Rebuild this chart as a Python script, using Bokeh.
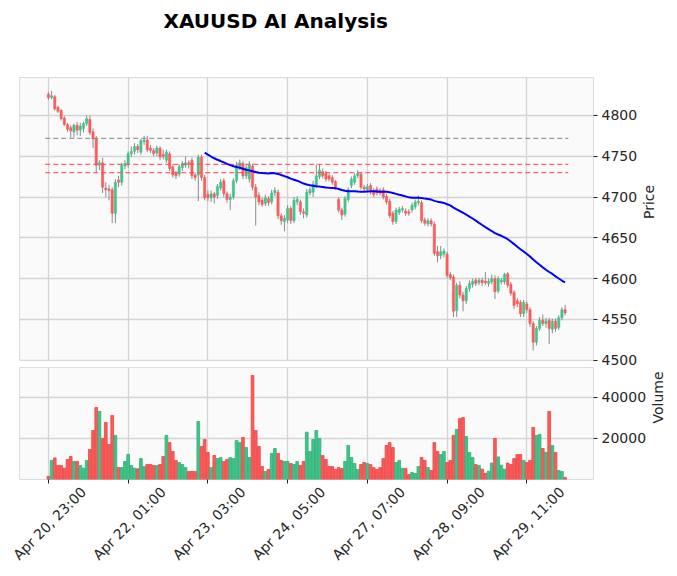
import numpy as np
import pandas as pd
from bokeh.plotting import figure
from bokeh.models import ColumnDataSource, FixedTicker, Range1d, LinearAxis
from bokeh.layouts import column
from bokeh.embed import file_html
from bokeh.resources import INLINE

# ---------------- data ----------------
opens = [4826,4822,4823,4810,4806,4797,4789,4785,4780,4788,4782,4784,4790,4795,4780,4772,4739,4742,4711,4710,
         4709,4680,4721,4718,4738,4740,4753,4756,4762,4755,4768,4770,4760,4757,4754,4760,4752,4745,4753,4737,
         4729,4728,4736,4739,4742,4745,4727,4727,4749,4724,4703,4699,4704,4702,4711,4720,4704,4697,4700,4720,
         4737,4741,4726,4722,4738,4712,4702,4696,4692,4698,4694,4705,4706,4677,4670,4672,4686,4671,4694,4694,
         4682,4678,4705,4706,4714,4725,4731,4729,4726,4724,4719,4697,4684,4679,4697,4714,4718,4726,4728,4712,
         4709,4714,4708,4710,4708,4709,4701,4695,4680,4670,4681,4684,4683,4682,4684,4688,4693,4693,4672,4667,
         4671,4667,4633,4628,4630,4630,4605,4602,4561,4592,4580,4573,4588,4593,4598,4595,4598,4597,4594,4596,
         4600,4585,4596,4596,4606,4593,4583,4573,4571,4557,4569,4562,4545,4522,4539,4549,4545,4549,4538,4548,
         4540,4552,4562]
highs = [4829,4830,4825,4812,4808,4799,4791,4788,4790,4792,4791,4792,4800,4800,4784,4775,4745,4748,4718,4715,
         4712,4722,4726,4742,4745,4756,4762,4766,4765,4771,4775,4775,4764,4760,4763,4762,4758,4758,4756,4740,
         4732,4740,4744,4750,4745,4748,4730,4752,4752,4727,4708,4708,4706,4716,4722,4723,4707,4704,4723,4743,
         4746,4744,4740,4744,4741,4716,4706,4699,4703,4701,4709,4712,4709,4680,4678,4690,4689,4700,4701,4697,
         4686,4710,4712,4720,4740,4740,4735,4732,4729,4727,4721,4700,4687,4701,4712,4725,4729,4733,4731,4715,
         4716,4717,4711,4713,4711,4712,4704,4698,4683,4687,4688,4689,4686,4685,4693,4697,4702,4696,4675,4674,
         4674,4670,4640,4640,4637,4633,4608,4605,4595,4597,4584,4591,4598,4600,4601,4601,4601,4608,4600,4605,
         4604,4603,4601,4607,4608,4596,4586,4576,4574,4574,4572,4565,4548,4542,4553,4556,4552,4552,4551,4551,
         4555,4565,4568]
lows = [4819,4820,4806,4803,4794,4787,4780,4773,4773,4776,4775,4779,4787,4776,4760,4730,4733,4705,4700,4696,
        4668,4668,4712,4714,4734,4736,4749,4752,4754,4752,4764,4755,4754,4750,4750,4745,4746,4742,4732,4724,
        4722,4725,4732,4736,4735,4722,4720,4695,4720,4696,4695,4694,4692,4698,4708,4700,4693,4684,4697,4717,
        4733,4722,4722,4718,4708,4665,4690,4688,4689,4689,4691,4701,4673,4666,4658,4668,4667,4668,4690,4678,
        4674,4675,4702,4700,4711,4722,4723,4719,4719,4715,4709,4681,4672,4676,4694,4711,4715,4723,4709,4707,
        4706,4703,4700,4702,4702,4697,4691,4674,4666,4667,4678,4681,4677,4677,4681,4685,4690,4668,4665,4664,
        4664,4628,4620,4624,4626,4601,4598,4553,4553,4576,4560,4569,4584,4589,4591,4592,4591,4592,4590,4593,
        4575,4582,4593,4593,4589,4579,4563,4565,4553,4553,4558,4541,4512,4518,4536,4542,4540,4520,4533,4535,
        4537,4549,4555]
closes = [4822,4824,4808,4805,4796,4789,4783,4781,4788,4782,4787,4790,4796,4779,4771,4739,4742,4712,4709,4708,
          4680,4718,4718,4739,4741,4753,4756,4762,4758,4769,4770,4758,4757,4753,4760,4749,4750,4755,4735,4727,
          4726,4737,4741,4742,4740,4726,4724,4749,4724,4699,4699,4704,4700,4713,4718,4704,4697,4700,4720,4739,
          4742,4726,4736,4740,4712,4700,4694,4691,4699,4693,4705,4708,4677,4671,4674,4686,4671,4696,4697,4682,
          4680,4706,4709,4716,4726,4733,4726,4722,4722,4718,4712,4684,4678,4698,4709,4722,4726,4729,4712,4710,
          4713,4706,4703,4705,4705,4700,4694,4677,4670,4684,4685,4686,4680,4680,4690,4694,4695,4671,4668,4671,
          4667,4631,4628,4633,4634,4604,4601,4560,4592,4580,4573,4588,4594,4597,4594,4598,4595,4595,4597,4600,
          4584,4600,4598,4605,4592,4582,4567,4569,4557,4571,4562,4545,4522,4539,4549,4545,4548,4539,4548,4539,
          4552,4562,4558]
volumes = [1500,9300,10500,6800,6800,5500,9800,11200,8800,8800,6800,5500,9300,14600,23900,35100,33200,20000,27800,17100,
           31200,21500,5800,5800,8800,12200,6800,5500,5200,10200,6300,7300,7300,6800,6800,7300,11200,21500,18000,13700,
           9300,8300,7300,5800,3900,3900,3900,28300,16100,19500,13200,5800,11700,10200,10700,8800,9800,10700,10200,19000,
           18000,20500,15600,10700,50700,23900,16100,6300,3900,4900,12700,15100,12700,9300,8800,8800,7800,7300,8800,6800,
           8800,23100,13700,19500,23900,20000,11700,9800,6300,6300,4900,5800,5400,8800,16600,10700,7800,4900,7300,8300,
           7800,7300,5800,4900,5800,10200,16600,18000,15600,8300,9300,5400,5400,2400,3400,2900,6300,10700,9300,5800,
           4400,18000,13700,12200,13700,8300,9300,21500,24400,29800,30200,21000,13200,10700,7300,6800,5000,3000,4000,8000,
           20000,11000,7000,5000,8000,7300,10200,12200,12200,9300,8300,9300,25400,21500,22000,15100,13200,33200,16600,13200,
           4400,3900,1000]
tick_index = [0, 25, 50, 75, 100, 125, 150]
tick_labels = ["Apr 20, 23:00", "Apr 22, 01:00", "Apr 23, 03:00", "Apr 24, 05:00",
               "Apr 27, 07:00", "Apr 28, 09:00", "Apr 29, 11:00"]
level_values = [4772, 4740, 4730]
level_colors = ["#8c8c8c", "#ff4d4d", "#ff4d4d"]
price_ticks = [4500, 4550, 4600, 4650, 4700, 4750, 4800]
volume_ticks = [20000, 40000]
ma_window = 50
title_text = "XAUUSD AI Analysis"

# ---------------- styling ----------------
UP, DOWN = "#3fc48a", "#fd5a5a"
UP_EDGE, DOWN_EDGE = "#2fae76", "#e84545"
FONT = "DejaVu Sans"
GRID = "#d4d4d4"
BG = "#fafafa"
W = 677
LEFT, RIGHT = 19, 82
LABEL_SHIFT = 11  # rotated date labels are centred on their tick (matplotlib style)

n = len(closes)
idx = np.arange(n)
up = [c >= o for o, c in zip(opens, closes)]
src = ColumnDataSource(dict(
    x=idx, o=opens, h=highs, l=lows, c=closes, v=volumes,
    top=[max(o, c) for o, c in zip(opens, closes)],
    bot=[min(o, c) for o, c in zip(opens, closes)],
    fill=[UP if u else DOWN for u in up],
    edge=[UP_EDGE if u else DOWN_EDGE for u in up],
))
ma = pd.Series(closes, dtype=float).rolling(ma_window).mean()
ma_src = ColumnDataSource(dict(x=idx[ma_window - 1:], y=ma.values[ma_window - 1:]))

x_range = Range1d(-9.06, n - 1 + 8.9)

# ---- title strip ----
tf = figure(width=W, height=40, toolbar_location=None, output_backend="svg",
            x_axis_location=None, y_axis_location=None,
            min_border_left=LEFT, min_border_right=RIGHT, min_border_top=0, min_border_bottom=0)
tf.title.text = title_text
tf.title.align = "left"
tf.title.offset = 144
tf.title.standoff = 12
tf.title.text_font = FONT
tf.title.text_font_size = "20px"
tf.title.text_font_style = "bold"
tf.title.text_color = "black"
tf.outline_line_color = None
tf.background_fill_color = "white"
tf.border_fill_color = "white"
tf.grid.visible = False

# ---- price panel ----
p1 = figure(width=W, height=327, x_range=x_range, y_range=Range1d(4499.7, 4846.5),
            y_axis_location="right", toolbar_location=None, output_backend="svg",
            min_border_left=LEFT, min_border_right=RIGHT, min_border_top=37, min_border_bottom=7)
p1.xaxis.visible = False
p1.xgrid.ticker = FixedTicker(ticks=tick_index)

p1.segment(x0="x", x1="x", y0="l", y1="h", source=src, line_color="#8a8a8a", line_width=1)
p1.vbar(x="x", width=0.72, top="top", bottom="bot", source=src,
        fill_color="fill", line_color="fill", line_width=0.5)
for lv, lc in zip(level_values, level_colors):
    p1.segment(x0=[-1], x1=[n], y0=[lv], y1=[lv], line_color=lc, line_width=1.2,
               line_alpha=0.85, line_dash="5 3")
p1.line("x", "y", source=ma_src, line_color="blue", line_width=2)

p1.yaxis.ticker = FixedTicker(ticks=price_ticks)
p1.yaxis.axis_label = "Price"

# ---- volume panel ----
p2 = figure(width=W, height=208, x_range=x_range, y_range=Range1d(0, 54634),
            y_axis_location="right", toolbar_location=None, output_backend="svg",
            min_border_left=LEFT, min_border_right=RIGHT, min_border_top=0, min_border_bottom=96)
p2.vbar(x="x", width=0.85, top="v", bottom=0, source=src,
        fill_color="fill", line_color="edge", line_width=0.8)
p2.yaxis.ticker = FixedTicker(ticks=volume_ticks)
p2.yaxis.axis_label = "Volume"
p2.xaxis.ticker = FixedTicker(ticks=tick_index)
p2.xgrid.ticker = FixedTicker(ticks=tick_index)

for p in (p1, p2):
    p.background_fill_color = BG
    p.border_fill_color = "white"
    p.outline_line_color = "#dcdcdc"
    p.grid.grid_line_color = GRID
    p.grid.grid_line_width = 1.3
    for ax in p.axis:
        ax.axis_line_color = None
        ax.major_tick_line_color = "#222222"
        ax.major_tick_out = 4
        ax.major_tick_in = 0
        ax.minor_tick_line_color = None
        ax.major_label_text_font = FONT
        ax.major_label_text_font_size = "14px"
        ax.major_label_text_color = "#262626"
        ax.major_label_standoff = 4
        ax.axis_label_text_font = FONT
        ax.axis_label_text_font_size = "14px"
        ax.axis_label_text_font_style = "normal"
        ax.axis_label_text_color = "#262626"
        ax.axis_label_standoff = 9
    p.yaxis.axis_label_orientation = np.pi / 2

# tick marks only on the first bottom axis
p2.xaxis.major_label_text_font_size = "1px"
p2.xaxis.major_label_text_alpha = 0
p2.xaxis.major_label_standoff = 0

# rotated date labels on a second, tick-less bottom axis
label_pos = [t + LABEL_SHIFT for t in tick_index]
lab_axis = LinearAxis(ticker=FixedTicker(ticks=label_pos),
                      major_label_overrides={t: s for t, s in zip(label_pos, tick_labels)},
                      major_label_orientation=np.pi / 4,
                      axis_line_color=None, major_tick_line_color=None,
                      minor_tick_line_color=None, major_tick_out=0, major_tick_in=0,
                      major_label_standoff=6,
                      major_label_text_font=FONT, major_label_text_font_size="14px",
                      major_label_text_color="#262626")
p2.add_layout(lab_axis, "below")

layout = column(tf, p1, p2)
open("out.html", "w").write(file_html(layout, INLINE))
